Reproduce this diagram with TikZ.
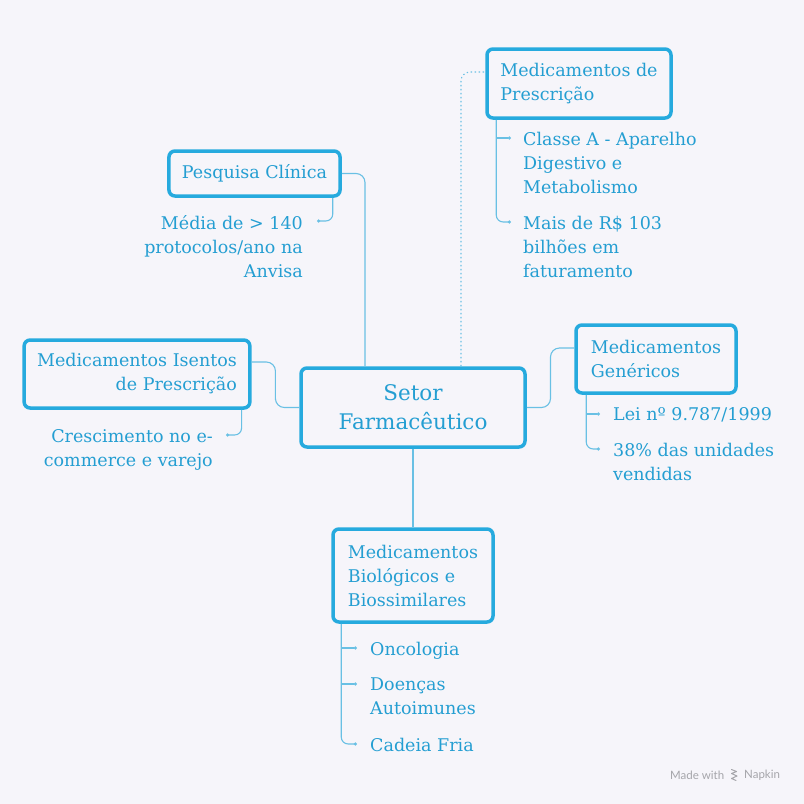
\documentclass[tikz,border=0pt]{standalone}
\usepackage{fontspec}
\setmainfont{DejaVu Serif}
\newfontfamily\wmfont{Lato}
\usetikzlibrary{arrows.meta,calc}
\definecolor{bg}{RGB}{246,245,250}
\definecolor{boxc}{RGB}{38,170,222}
\definecolor{txtc}{RGB}{36,158,210}
\definecolor{linec}{RGB}{105,192,228}
\definecolor{wmc}{RGB}{165,165,170}
\begin{document}
\begin{tikzpicture}[x=1pt,y=-1pt,
  box/.style={draw=boxc, line width=3.5pt, rounded corners=6pt, fill=bg, text=txtc,
    inner xsep=13pt, inner ysep=0pt, font=\fontsize{17.5}{24}\selectfont},
  leaf/.style={text=txtc, inner sep=0pt, font=\fontsize{17.5}{24}\selectfont},
  conn/.style={draw=linec, line width=1.1pt, rounded corners=7pt},
  tipd/.style={-{Circle[length=3.2pt]}},
  wm/.style={text=wmc, inner sep=0pt, font=\wmfont\fontsize{11.5}{13}\selectfont}]
\fill[bg] (0,0) rectangle (804,804);
\useasboundingbox (0,0) rectangle (804,804);

% boxes
\node[box, align=center, minimum width=224pt, minimum height=79pt, font=\fontsize{21.5}{29}\selectfont] (center) at (413,407.5) {Setor\\Farmacêutico};
\node[box, align=center, minimum width=169pt, minimum height=45pt] (pesq) at (254.5,173.5) {Pesquisa Clínica};
\node[box, align=left, minimum width=184pt, minimum height=69pt] (presc) at (579,83.5) {Medicamentos de\\Prescrição};
\node[box, align=right, minimum width=224pt, minimum height=68pt] (isent) at (137,374) {Medicamentos Isentos\\de Prescrição};
\node[box, align=left, minimum width=160pt, minimum height=68pt] (gen) at (656,359) {Medicamentos\\Genéricos};
\node[box, align=left, minimum width=160pt, minimum height=93pt] (biol) at (413,575.5) {Medicamentos\\Biológicos e\\Biossimilares};

% leaves
\node[leaf, align=right, anchor=north east] (pc) at (303,215.5) {Média de > 140\\protocolos/ano na\\Anvisa};
\node[leaf, align=right, anchor=north east] (ic) at (213,429.5) {Crescimento no e-\\commerce e varejo};
\node[leaf, align=left, anchor=north west] (p1) at (523,131.5) {Classe A - Aparelho\\Digestivo e\\Metabolismo};
\node[leaf, align=left, anchor=north west] (p2) at (523,215.5) {Mais de R\$ 103\\bilhões em\\faturamento};
\node[leaf, align=left, anchor=north west] (g1) at (613,407.5) {Lei nº 9.787/1999};
\node[leaf, align=left, anchor=north west] (g2) at (613,442.5) {38\% das unidades\\vendidas};
\node[leaf, align=left, anchor=north west] (b1) at (370,641.5) {Oncologia};
\node[leaf, align=left, anchor=north west] (b2) at (370,677.5) {Doenças\\Autoimunes};
\node[leaf, align=left, anchor=north west] (b3) at (370,737.5) {Cadeia Fria};

% arrow ends and stems
\coordinate (pa) at (317,221);
\coordinate (ia) at (226,435);
\coordinate (pa1) at (511,138);
\coordinate (pa2) at (511,222);
\coordinate (ga1) at (600,414);
\coordinate (ga2) at (600,449);
\coordinate (ba1) at (357,648);
\coordinate (ba2) at (357,684);
\coordinate (ba3) at (357,744);
\coordinate (stemP) at ([xshift=11pt]presc.south west);
\coordinate (stemG) at ([xshift=12pt]gen.south west);
\coordinate (stemB) at ([xshift=10pt]biol.south west);

% main connectors
\draw[conn, rounded corners=9pt] (pesq.east) -| ([xshift=-48pt]center.north);
\draw[conn, rounded corners=9pt, dash pattern=on 1.3pt off 2.7pt] ([xshift=48pt]center.north) |- ([yshift=11.5pt]presc.west);
\draw[conn, rounded corners=9pt] ([yshift=12pt]isent.east) -| ($(isent.east)!0.5!(center.west)$) |- (center.west);
\draw[conn, rounded corners=9pt] (center.east) -| ($(center.east)!0.5!(gen.west)$) |- ([yshift=11pt]gen.west);
\draw[conn] (center.south) -- (biol.north);

% leaf connectors
\draw[conn, tipd] ([xshift=-9pt]pesq.south east) |- (pa);
\draw[conn, tipd] ([xshift=-10pt]isent.south east) |- (ia);
\draw[conn, tipd] (stemP) |- (pa2);
\draw[conn, tipd, sharp corners] (pa1 -| stemP) -- (pa1);
\draw[conn, tipd] (stemG) |- (ga2);
\draw[conn, tipd, sharp corners] (ga1 -| stemG) -- (ga1);
\draw[conn, tipd] (stemB) |- (ba3);
\draw[conn, tipd, sharp corners] (ba1 -| stemB) -- (ba1);
\draw[conn, tipd, sharp corners] (ba2 -| stemB) -- (ba2);

% watermark
\node[wm, anchor=west] (made) at (670,775) {Made with};
\node[wm, anchor=west] (napkin) at (744,775) {Napkin};
\draw[wmc, line width=1pt, line join=round, line cap=round] (731.5,769.5) -- (736.5,771.5) -- (731.5,773.5) -- (737,776) -- (731.5,778.5) -- (736,780.5);
\end{tikzpicture}
\end{document}
